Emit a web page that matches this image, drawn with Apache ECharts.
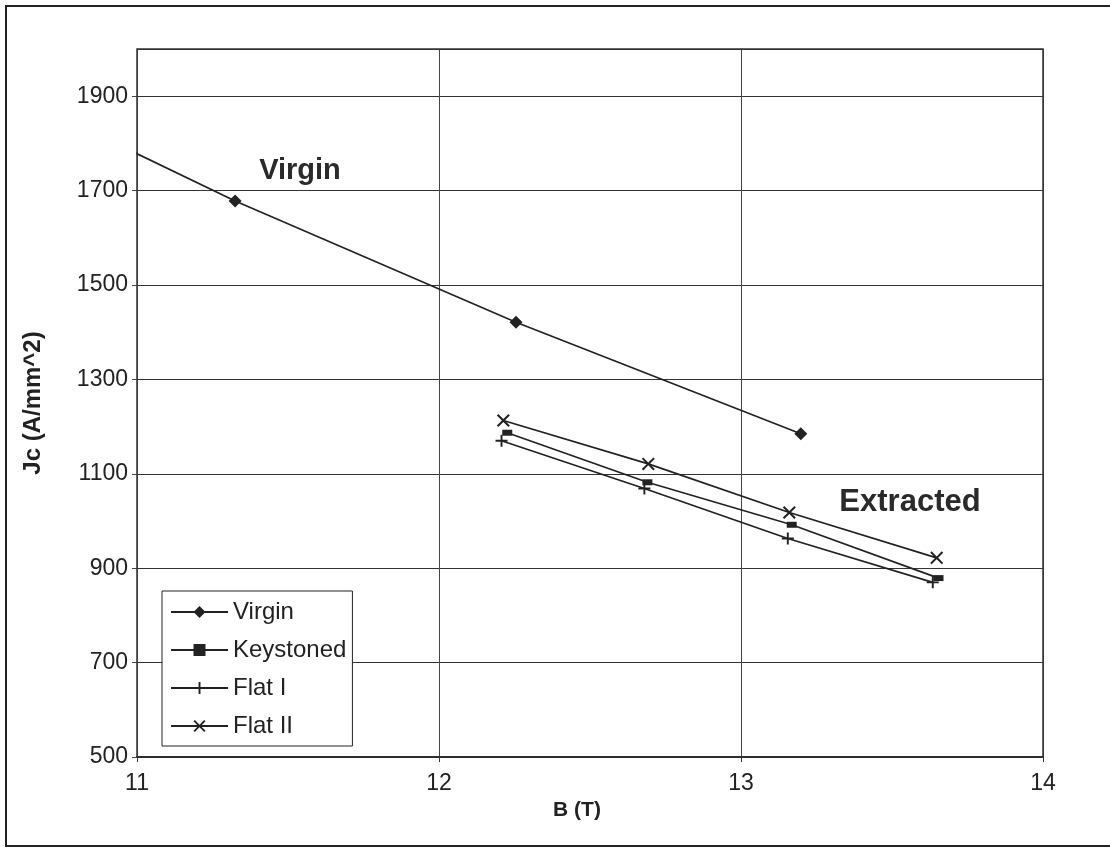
<!DOCTYPE html>
<html>
<head>
<meta charset="utf-8">
<title>Jc vs B</title>
<script src="https://cdn.jsdelivr.net/npm/echarts@6/dist/echarts.min.js"></script>
<style>
  html, body { margin: 0; padding: 0; background: #fff; }
  #chart { width: 1110px; height: 850px; }
</style>
</head>
<body>
<div id="chart"></div>
<script>
// Critical current density Jc (A/mm^2) against field B (T)
const seriesNames = ['Virgin', 'Keystoned', 'Flat I', 'Flat II'];

// Virgin strand (first point lies left of the plotted B range)
const virginB  = [10.5, 11.325, 12.255, 13.198];
const virginJc = [1932, 1678, 1421, 1185];

// Extracted strands
const keystonedB  = [12.226, 12.69, 13.168, 13.654];
const keystonedJc = [1187, 1082, 992, 879];

const flat1B  = [12.207, 12.68, 13.155, 13.635];
const flat1Jc = [1170, 1069, 963, 870];

const flat2B  = [12.213, 12.693, 13.16, 13.648];
const flat2Jc = [1213, 1121, 1018, 922];

const yTicks = { min: 500, max: 2000, step: 200 };
const xTicks = { min: 11, max: 14, step: 1 };

const pair = (xs, ys) => xs.map((x, i) => [x, ys[i]]);

const INK = '#222222';
const FONT = 'Liberation Sans, Arial, sans-serif';

const plusPath = 'path://M4.2,0H5.8V4.2H10V5.8H5.8V10H4.2V5.8H0V4.2H4.2Z';
const crossPath = 'path://M0,1.1L1.1,0L5,3.9L8.9,0L10,1.1L6.1,5L10,8.9L8.9,10L5,6.1L1.1,10L0,8.9L3.9,5Z';
const dashPath = 'path://M0,0H10V6H0Z';

function lineSeries(name, data, symbol, size) {
  return {
    name: name,
    type: 'line',
    data: data,
    symbol: symbol,
    symbolSize: size,
    showAllSymbol: true,
    clip: true,
    lineStyle: { color: INK, width: 1.7 },
    itemStyle: { color: INK },
    emphasis: { disabled: true },
    animation: false
  };
}

const chart = echarts.init(document.getElementById('chart'), null, { renderer: 'canvas' });

chart.setOption({
  backgroundColor: '#ffffff',
  animation: false,
  textStyle: { fontFamily: FONT },
  grid: { left: 137, right: 67, top: 49, bottom: 93, show: false },
  xAxis: {
    type: 'value',
    min: xTicks.min,
    max: xTicks.max,
    interval: xTicks.step,
    name: 'B (T)',
    nameLocation: 'middle',
    nameGap: 29,
    nameTextStyle: { fontFamily: FONT, fontSize: 21, fontWeight: 'bold', color: '#222', padding: [0, 26, 0, 0] },
    axisLine: { show: true, onZero: false, lineStyle: { color: '#222', width: 2 } },
    axisTick: { show: true, inside: false, length: 5, lineStyle: { color: '#333' } },
    axisLabel: { fontFamily: FONT, fontSize: 23, color: '#222', margin: 15, formatter: v => String(v) },
    splitLine: { show: true, lineStyle: { color: '#444', width: 1 } }
  },
  yAxis: {
    type: 'value',
    min: yTicks.min,
    max: yTicks.max,
    interval: yTicks.step,
    name: 'Jc (A/mm^2)',
    nameLocation: 'middle',
    nameGap: 92,
    nameTextStyle: { fontFamily: FONT, fontSize: 24, fontWeight: 'bold', color: '#222' },
    axisLine: { show: true, onZero: false, lineStyle: { color: '#555', width: 1 } },
    axisTick: { show: true, inside: false, length: 5, lineStyle: { color: '#444' } },
    axisLabel: { fontFamily: FONT, fontSize: 23, color: '#222', margin: 9, showMaxLabel: false, formatter: v => String(v) },
    splitLine: { show: true, lineStyle: { color: '#333', width: 1 } }
  },
  legend: {
    orient: 'vertical',
    left: 162,
    top: 591,
    padding: [9, 6, 8, 8],
    itemWidth: 57,
    itemHeight: 15,
    itemGap: 14,
    backgroundColor: '#ffffff',
    borderColor: '#222',
    borderWidth: 1,
    borderRadius: 0,
    selectedMode: false,
    data: seriesNames,
    textStyle: { fontFamily: FONT, fontSize: 24, color: '#222', lineHeight: 24 }
  },
  graphic: [
    {
      type: 'rect', silent: true, z: 100,
      shape: { x: 6, y: 6, width: 1120, height: 840 },
      style: { fill: 'none', stroke: '#222', lineWidth: 2 }
    },
    {
      type: 'rect', silent: true, z: 5,
      shape: { x: 137, y: 49, width: 906, height: 708 },
      style: { fill: 'none', stroke: '#333', lineWidth: 1.5 }
    },
    {
      type: 'text', silent: true, z: 50,
      style: { x: 300, y: 171, text: 'Virgin', font: 'bold 29px ' + FONT, fill: '#2a2a2a', textAlign: 'center', textVerticalAlign: 'middle' }
    },
    {
      type: 'text', silent: true, z: 50,
      style: { x: 910, y: 502, text: 'Extracted', font: 'bold 31px ' + FONT, fill: '#2a2a2a', textAlign: 'center', textVerticalAlign: 'middle' }
    }
  ],
  series: [
    lineSeries(seriesNames[0], pair(virginB, virginJc), 'diamond', 13),
    lineSeries(seriesNames[1], pair(keystonedB, keystonedJc), dashPath, [10, 6]),
    lineSeries(seriesNames[2], pair(flat1B, flat1Jc), plusPath, 12),
    lineSeries(seriesNames[3], pair(flat2B, flat2Jc), crossPath, 13)
  ]
});
</script>
</body>
</html>
